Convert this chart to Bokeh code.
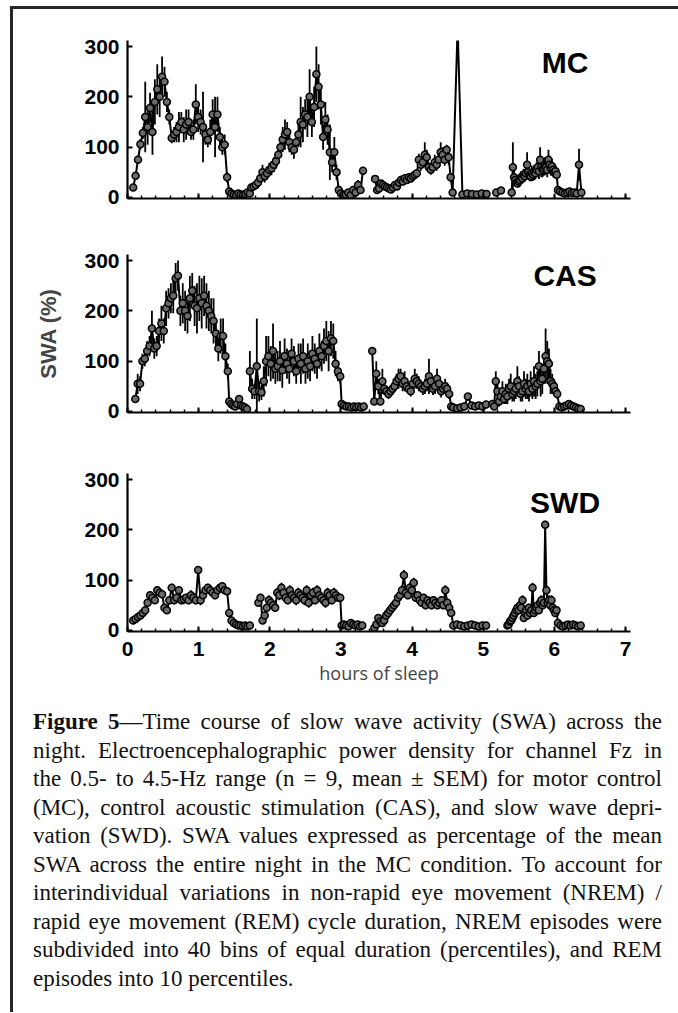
import numpy as np
from bokeh.plotting import figure
from bokeh.models import Label, FixedTicker, Div, Range1d
from bokeh.layouts import column
from bokeh.embed import file_html
from bokeh.resources import INLINE

NAN = float("nan")

# ---------------- data (SWA, % of MC night mean; mean and SEM) ----------------
# x axis ticks (hours of sleep)
X_TICKS = [0, 1, 2, 3, 4, 5, 6, 7]
X_MINOR = [round(0.2 * i, 1) for i in range(36)]
Y_TICKS = [0, 100, 200, 300]

# episode limits (first and last bin, hours) in order NREM1, REM1, NREM2, REM2, ...
MC_EPISODES = [(0.08, 1.40), (1.43, 1.72), (1.74, 2.97), (3.00, 3.31),
               (3.48, 4.57), (4.64, 5.25), (5.40, 6.05), (6.08, 6.38)]
CAS_EPISODES = [(0.11, 1.41), (1.43, 1.68), (1.72, 2.99), (3.01, 3.32),
                (3.44, 4.55), (4.58, 5.04), (5.13, 6.04), (6.07, 6.37)]
SWD_EPISODES = [(0.08, 1.40), (1.43, 1.72), (1.84, 2.99), (3.01, 3.30),
                (3.47, 4.55), (4.58, 5.04), (5.34, 6.03), (6.05, 6.37)]

# --- MC ---
MC_N1 = [20, 43, 75, 106, 128, 160, 140, 178, 130, 190, 215, 200, 240, 230, 190, 160, 118, 125, 130, 140,
         150, 135, 145, 150, 130, 135, 185, 160, 150, 140, 125, 115, 130, 165, 140, 165, 120, 100, 105, 40]
MC_N1_SEM = [4, 6, 8, 10, 12, 70, 35, 30, 45, 45, 50, 40, 40, 30, 20, 15, 10, 15, 20, 30,
             20, 25, 30, 25, 15, 20, 40, 30, 25, 70, 20, 15, 25, 30, 60, 35, 20, 15, 20, 10]
MC_R1 = [12, 8, 6, 5, 8, 6, 5, 7, 10, 8]
MC_R1_SEM = [4, 3, 2, 2, 3, 2, 2, 3, 3, 3]
MC_N2 = [20, 22, 25, 30, 38, 50, 42, 48, 55, 58, 65, 72, 85, 100, 115, 125, 130, 110, 100, 95,
         110, 125, 150, 145, 165, 160, 200, 150, 180, 245, 220, 185, 120, 155, 135, 90, 70, 90, 50, 15]
MC_N2_SEM = [5, 5, 6, 8, 12, 15, 12, 12, 14, 14, 15, 15, 18, 20, 25, 30, 20, 20, 15, 18,
             20, 25, 50, 35, 30, 40, 55, 30, 40, 55, 45, 40, 25, 35, 30, 55, 20, 30, 15, 8]
MC_R2 = [8, 5, 6, 10, 5, 15, 10, 25, 15, 53]
MC_R2_SEM = [3, 2, 2, 4, 2, 6, 4, 10, 6, 8]
MC_N3 = [37, 15, 18, 28, 25, 22, 20, 18, 16, 20, 25, 22, 30, 35, 32, 38, 35, 40, 38, 42,
         45, 48, 75, 65, 70, 85, 80, 60, 55, 60, 70, 65, 75, 90, 85, 75, 95, 80, 40, 10]
MC_N3_SEM = [5, 4, 5, 6, 5, 5, 5, 4, 4, 5, 6, 5, 6, 8, 6, 8, 6, 8, 8, 8,
             8, 8, 12, 12, 12, 25, 15, 10, 10, 12, 15, 12, 15, 20, 15, 12, 10, 15, 8, 3]
MC_R3 = [340, 6, 8, 7, 6, 8, 7, NAN, 10, 14]
MC_R3_SEM = [0, 2, 3, 2, 2, 3, 2, NAN, 3, 4]
MC_N4 = [10, 60, 40, 35, 30, 28, 32, 35, 40, 38, 45, 42, 48, 65, 50, 45, 42, 48, 45, 50,
         48, 55, 60, 52, 75, 60, 55, 58, 62, 60, 55, 75, 65, 58, 62, 55, 50, 52, 45, 15]
MC_N4_SEM = [3, 50, 15, 10, 8, 8, 10, 10, 12, 10, 12, 10, 12, 25, 15, 12, 10, 15, 12, 15,
             12, 15, 20, 15, 25, 20, 15, 15, 18, 15, 15, 20, 18, 15, 15, 15, 12, 12, 10, 5]
MC_R4 = [12, 10, 8, 10, 12, 9, 10, 8, 65, 10]
MC_R4_SEM = [4, 3, 3, 3, 4, 3, 3, 3, 32, 3]

# --- CAS ---
CAS_N1 = [25, 55, 55, 100, 105, 120, 130, 165, 125, 130, 160, 175, 160, 205, 215, 225, 230, 265, 270, 200,
          215, 200, 190, 225, 240, 210, 205, 225, 215, 230, 210, 200, 190, 180, 155, 125, 150, 150, 110, 80]
CAS_N1_SEM = [5, 20, 15, 15, 15, 20, 20, 35, 20, 20, 25, 35, 25, 35, 30, 30, 35, 30, 30, 30,
              40, 40, 35, 45, 35, 40, 50, 45, 50, 40, 45, 40, 35, 45, 30, 25, 35, 35, 25, 15]
CAS_R1 = [20, 15, 12, 10, 15, 25, 12, 10, 8, 5]
CAS_R1_SEM = [5, 4, 3, 3, 4, 6, 3, 3, 2, 2]
CAS_N2 = [80, 45, 40, 90, 40, 38, 60, 100, 110, 95, 120, 85, 90, 100, 82, 110, 95, 85, 115, 100,
          80, 105, 95, 110, 85, 100, 90, 115, 105, 95, 120, 110, 130, 140, 120, 145, 140, 95, 80, 70]
CAS_N2_SEM = [40, 20, 15, 95, 20, 15, 30, 50, 40, 35, 55, 30, 30, 40, 35, 35, 30, 30, 30, 30,
              25, 30, 40, 35, 30, 35, 30, 35, 30, 30, 35, 30, 35, 40, 40, 35, 35, 25, 20, 15]
CAS_R2 = [15, 12, 10, 10, 8, 10, 9, 10, 8, 10]
CAS_R2_SEM = [4, 3, 3, 3, 2, 3, 2, 3, 2, 3]
CAS_N3 = [120, 20, 75, 50, 20, 60, 45, 40, 35, 40, 45, 50, 60, 65, 70, 55, 60, 50, 45, 40,
          55, 65, 60, 55, 50, 45, 50, 55, 70, 60, 45, 50, 65, 55, 40, 45, 50, 45, 35, 10]
CAS_N3_SEM = [5, 5, 25, 15, 5, 25, 12, 10, 10, 10, 12, 12, 15, 20, 15, 15, 20, 12, 10, 10,
              15, 20, 15, 15, 12, 12, 15, 15, 35, 15, 12, 15, 20, 15, 12, 12, 15, 12, 10, 4]
CAS_R3 = [8, 6, 8, 10, 30, 12, 10, 12, 10, 14]
CAS_R3_SEM = [2, 2, 2, 3, 6, 3, 3, 3, 3, 3]
CAS_N4 = [15, 10, 60, 40, 20, 30, 40, 25, 35, 30, 45, 50, 35, 40, 45, 60, 50, 35, 40, 55,
          45, 50, 40, 55, 45, 60, 50, 55, 90, 60, 65, 85, 110, 100, 95, 60, 55, 50, 40, 35]
CAS_N4_SEM = [5, 4, 20, 15, 10, 15, 20, 10, 20, 15, 20, 25, 15, 20, 20, 30, 20, 15, 20, 25,
              20, 25, 20, 25, 20, 30, 25, 25, 30, 30, 30, 30, 55, 40, 30, 25, 20, 15, 10, 10]
CAS_R4 = [10, 8, 10, 12, 15, 12, 10, 8, 6, 5]
CAS_R4_SEM = [3, 2, 3, 3, 4, 3, 3, 2, 2, 2]

# --- SWD ---
SWD_N1 = [20, 23, 27, 30, 35, 40, 55, 70, 65, 60, 80, 75, 72, 45, 40, 60, 85, 60, 65, 80,
          60, 62, 65, 60, 70, 65, 60, 120, 60, 70, 80, 85, 80, 75, 70, 80, 85, 88, 80, 78]
SWD_N1_SEM = [3, 3, 3, 4, 4, 5, 6, 8, 6, 6, 8, 8, 6, 6, 6, 8, 8, 8, 8, 8,
              8, 10, 8, 8, 10, 8, 8, 8, 10, 10, 8, 8, 10, 8, 8, 8, 8, 8, 8, 8]
SWD_R1 = [35, 20, 15, 12, 10, 10, 8, 10, 8, 10]
SWD_R1_SEM = [5, 4, 3, 3, 2, 2, 2, 2, 2, 2]
SWD_N2 = [55, 65, 20, 30, 45, 60, 55, 50, 45, 75, 70, 85, 75, 65, 60, 80, 70, 65, 60, 75,
          70, 65, 60, 80, 55, 70, 75, 60, 80, 70, 65, 60, 55, 75, 70, 60, 75, 70, 65, 65]
SWD_N2_SEM = [8, 8, 5, 6, 8, 10, 8, 8, 8, 10, 10, 10, 10, 8, 8, 10, 10, 8, 10, 10,
              10, 8, 10, 10, 10, 10, 10, 8, 10, 10, 8, 10, 10, 10, 10, 8, 10, 10, 8, 8]
SWD_R2 = [10, 12, 10, 8, 15, 12, 10, 12, 8, 10]
SWD_R2_SEM = [2, 3, 2, 2, 3, 3, 2, 3, 2, 2]
SWD_N3 = [5, 12, 25, 18, 15, 20, 30, 35, 40, 45, 50, 55, 65, 70, 80, 110, 75, 70, 85, 80,
          95, 65, 70, 60, 55, 65, 50, 60, 55, 50, 60, 55, 50, 55, 60, 50, 80, 55, 45, 35]
SWD_N3_SEM = [2, 3, 5, 4, 4, 4, 5, 6, 6, 6, 8, 8, 8, 10, 10, 10, 10, 8, 10, 10,
              10, 8, 8, 8, 8, 8, 8, 8, 8, 8, 8, 8, 8, 8, 8, 8, 10, 8, 6, 5]
SWD_R3 = [10, 12, 10, 8, 10, 12, 10, 8, 10, 10]
SWD_R3_SEM = [2, 3, 2, 2, 2, 3, 2, 2, 2, 2]
SWD_N4 = [10, 12, 18, 20, 25, 30, 35, 40, 45, 40, 50, 45, 60, 25, 35, 40, 30, 45, 35, 40,
          85, 35, 40, 45, 50, 40, 55, 60, 50, 55, 210, 80, 55, 60, 50, 60, 45, 40, 35, 40]
SWD_N4_SEM = [2, 3, 4, 4, 5, 6, 6, 8, 8, 6, 8, 8, 10, 5, 6, 8, 6, 8, 6, 8,
              10, 6, 8, 8, 8, 6, 10, 10, 8, 8, 8, 10, 8, 10, 8, 10, 8, 6, 6, 6]
SWD_R4 = [15, 10, 8, 10, 12, 10, 12, 10, 8, 10]
SWD_R4_SEM = [3, 2, 2, 2, 3, 2, 3, 2, 2, 2]

CAPTION_LINES = [
    "<b>Figure 5</b>\u2014Time course of slow wave activity (SWA) across the",
    "night. Electroencephalographic power density for channel Fz in",
    "the 0.5- to 4.5-Hz range (n = 9, mean \u00b1 SEM) for motor control",
    "(MC), control acoustic stimulation (CAS), and slow wave depri-",
    "vation (SWD). SWA values expressed as percentage of the mean",
    "SWA across the entire night in the MC condition. To account for",
    "interindividual variations in non-rapid eye movement (NREM) /",
    "rapid eye movement (REM) cycle duration, NREM episodes were",
    "subdivided into 40 bins of equal duration (percentiles), and REM",
    "episodes into 10 percentiles.",
]


def build(episodes, values, sems):
    xs, ys, es = [], [], []
    for k in range(0, len(episodes), 2):
        for j in (k, k + 1):
            t0, t1 = episodes[j]
            n = len(values[j])
            xs += list(np.linspace(t0, t1, n))
            ys += list(values[j])
            es += list(sems[j])
        xs.append(NAN); ys.append(NAN); es.append(NAN)
    x = np.array(xs, dtype=float)
    y = np.array(ys, dtype=float)
    e = np.array(es, dtype=float)
    return x, y, e


TICK_FONT = "Liberation Sans"


def panel(name, label_y, episodes, values, sems, top, bottom, show_x_labels=False, ylab=None):
    p = figure(frame_width=503, frame_height=158,
               min_border_left=114, min_border_right=48,
               min_border_top=top, min_border_bottom=bottom,
               x_range=Range1d(0, 7.07), y_range=Range1d(-2, 312),
               output_backend="svg", toolbar_location=None)
    p.outline_line_color = None
    p.grid.grid_line_color = None
    p.background_fill_color = "white"
    p.border_fill_color = None

    x, y, e = build(episodes, values, sems)
    p.segment(x0=x, y0=y - e, x1=x, y1=y + e, line_color="black", line_width=1.8)
    p.line(x, y, line_color="black", line_width=2)
    p.scatter(x, y, size=7, fill_color="#6a6a6a", line_color="black", line_width=1.5)

    for ax in (p.xaxis[0], p.yaxis[0]):
        ax.axis_line_width = 2.2
        ax.axis_line_color = "black"
        ax.major_tick_line_width = 2
        ax.major_tick_in = 5
        ax.major_tick_out = 0
        ax.major_label_text_font = TICK_FONT
        ax.major_label_text_font_style = "bold"
        ax.major_label_text_font_size = "21px"
        ax.major_label_text_color = "black"

    p.xaxis.ticker = FixedTicker(ticks=X_TICKS, minor_ticks=X_MINOR)
    p.xaxis.minor_tick_in = 3
    p.xaxis.minor_tick_out = 0
    p.xaxis.minor_tick_line_width = 1.5
    p.xaxis.major_label_standoff = 10
    if show_x_labels:
        p.xaxis.axis_label = "hours of sleep"
        p.xaxis.axis_label_text_font = "Open Sans"
        p.xaxis.axis_label_text_font_style = "normal"
        p.xaxis.axis_label_text_font_size = "18px"
        p.xaxis.axis_label_standoff = 2
    else:
        p.xaxis.major_label_overrides = {t: "" for t in X_TICKS}
        p.xaxis.major_label_text_font_size = "1px"
        p.xaxis.major_label_standoff = 0

    p.yaxis.ticker = FixedTicker(ticks=Y_TICKS)
    p.yaxis.minor_tick_line_color = None
    p.yaxis.major_label_standoff = 8
    if ylab:
        p.yaxis.axis_label = ylab
        p.yaxis.axis_label_text_font = TICK_FONT
        p.yaxis.axis_label_text_font_style = "bold"
        p.yaxis.axis_label_text_font_size = "22px"
        p.yaxis.axis_label_standoff = 20

    p.add_layout(Label(x=6.15, y=label_y, text=name, text_font=TICK_FONT,
                       text_font_style="bold", text_font_size="30px",
                       text_align="center", text_baseline="middle", text_color="black"))
    return p


p1 = panel("MC", 268, MC_EPISODES,
           [MC_N1, MC_R1, MC_N2, MC_R2, MC_N3, MC_R3, MC_N4, MC_R4],
           [MC_N1_SEM, MC_R1_SEM, MC_N2_SEM, MC_R2_SEM, MC_N3_SEM, MC_R3_SEM, MC_N4_SEM, MC_R4_SEM],
           top=31, bottom=24)
p2 = panel("CAS", 270, CAS_EPISODES,
           [CAS_N1, CAS_R1, CAS_N2, CAS_R2, CAS_N3, CAS_R3, CAS_N4, CAS_R4],
           [CAS_N1_SEM, CAS_R1_SEM, CAS_N2_SEM, CAS_R2_SEM, CAS_N3_SEM, CAS_R3_SEM, CAS_N4_SEM, CAS_R4_SEM],
           top=32, bottom=29, ylab="SWA (%)")
p3 = panel("SWD", 254, SWD_EPISODES,
           [SWD_N1, SWD_R1, SWD_N2, SWD_R2, SWD_N3, SWD_R3, SWD_N4, SWD_R4],
           [SWD_N1_SEM, SWD_R1_SEM, SWD_N2_SEM, SWD_R2_SEM, SWD_N3_SEM, SWD_R3_SEM, SWD_N4_SEM, SWD_R4_SEM],
           top=32, bottom=59, show_x_labels=True)

rows = []
for i, line in enumerate(CAPTION_LINES):
    last = "justify" if i < len(CAPTION_LINES) - 1 else "left"
    rows.append('<div style="text-align:justify;text-align-last:%s;">%s</div>' % (last, line))
caption_html = ('<div style="font-family:\'Liberation Serif\',\'Times New Roman\',serif;font-size:23px;'
                'line-height:28.5px;color:#111;box-sizing:content-box;margin:0 0 0 15px;'
                'padding:13px 0 0 0;width:629px;">' + "".join(rows) + '</div>')
caption = Div(text=caption_html, width=665, height=312)

layout = column(p1, p2, p3, caption, spacing=0,
                styles={"border-left": "3px solid #262626", "border-top": "3px solid #262626",
                        "margin-left": "10px", "margin-top": "6px"})

open("out.html", "w").write(file_html(layout, INLINE))
